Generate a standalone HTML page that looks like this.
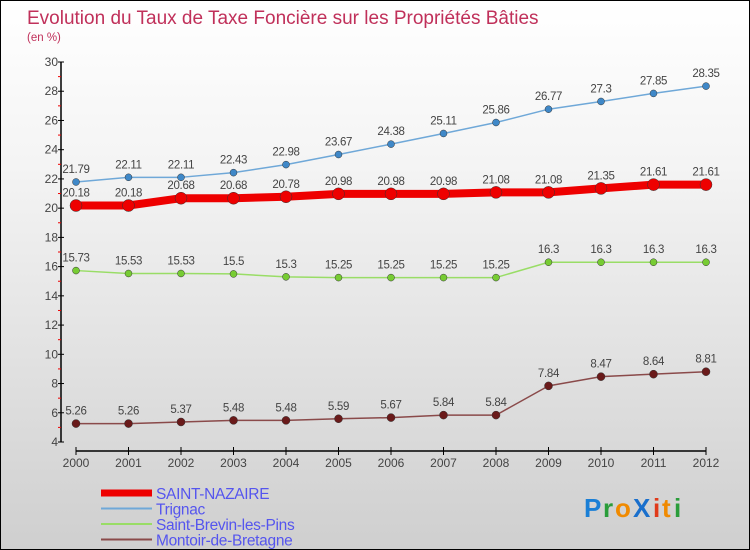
<!DOCTYPE html>
<html><head><meta charset="utf-8"><style>
body{margin:0}
#c{width:748px;height:548px;border:1px solid #000;background:linear-gradient(#fff,#f4f4f4 30%,#cfcfcf);position:relative;overflow:hidden;font-family:"Liberation Sans",sans-serif}
</style></head><body>
<div id="c">
<svg id="s" width="748" height="548">
<text x="26" y="23" font-size="19" fill="#c0305a" font-family="Liberation Sans,sans-serif">Evolution du Taux de Taxe Foncière sur les Propriétés Bâties</text>
<text x="26" y="40" font-size="11.5" fill="#c0305a">(en %)</text>
<g id="axes"></g><g id="series"></g><g id="legend"></g>
<g font-size="26" font-weight="bold" font-family="Liberation Sans,sans-serif">
<text x="583" y="516" fill="#1a7fd6">P</text><text x="602" y="516" fill="#2a9d3a">r</text><text x="614" y="516" fill="#f08a00">o</text><text x="632" y="516" fill="#1a6fcc">X</text><text x="652" y="516" fill="#e03a1a">i</text><text x="661" y="516" fill="#f08a00">t</text><text x="673" y="516" fill="#2a9d3a">i</text>
</g>
</svg></div>
<script>
const years=[2000,2001,2002,2003,2004,2005,2006,2007,2008,2009,2010,2011,2012];
const stNazaire=[20.18,20.18,20.68,20.68,20.78,20.98,20.98,20.98,21.08,21.08,21.35,21.61,21.61];
const trignac=[21.79,22.11,22.11,22.43,22.98,23.67,24.38,25.11,25.86,26.77,27.3,27.85,28.35];
const stBrevin=[15.73,15.53,15.53,15.5,15.3,15.25,15.25,15.25,15.25,16.3,16.3,16.3,16.3];
const montoir=[5.26,5.26,5.37,5.48,5.48,5.59,5.67,5.84,5.84,7.84,8.47,8.64,8.81];
const yTicks=[4,6,8,10,12,14,16,18,20,22,24,26,28,30];
const NS="http://www.w3.org/2000/svg";
const X=i=>75+i*52.5, Y=v=>441-(v-4)*380/26;
function mk(t,a,p){const e=document.createElementNS(NS,t);for(const k in a)e.setAttribute(k,a[k]);p.appendChild(e);return e;}
const ax=document.getElementById('axes');
let yl=mk('line',{x1:60,y1:Y(30),x2:60,y2:Y(4),stroke:'#000','stroke-width':1.5},ax);

yTicks.forEach(v=>{mk('line',{x1:57,x2:63,y1:Y(v),y2:Y(v),stroke:'#000'},ax);
 if(v<30)mk('line',{x1:57,x2:60,y1:Y(v+1),y2:Y(v+1),stroke:'#e00'},ax);
 const t=mk('text',{x:57,y:Y(v)+4,'text-anchor':'end','font-size':12,fill:'#444'},ax);t.textContent=v;
 });
let xl=mk('line',{x1:75,y1:450,x2:705,y2:450,stroke:'#000','stroke-width':1.5},ax);

years.forEach((y,i)=>{mk('line',{x1:X(i),x2:X(i),y1:446,y2:454,stroke:'#000'},ax);
 const t=mk('text',{x:X(i),y:466,'text-anchor':'middle','font-size':12,fill:'#444'},ax);t.textContent=y;
 });
const sg=document.getElementById('series');
function draw(d,color,w,r,dot,name){
 const g=mk('g',{},sg);
 mk('polyline',{points:d.map((v,i)=>X(i)+','+Y(v)).join(' '),fill:'none',stroke:color,'stroke-width':w,'stroke-linejoin':'round'},g);
 d.forEach((v,i)=>{const c=mk('circle',{cx:X(i),cy:Y(v),r:r,fill:dot,stroke:'#333','stroke-width':0.5},g);
  
  const t=mk('text',{x:X(i),y:Y(v)-9,'text-anchor':'middle','font-size':11.5,fill:'#444','letter-spacing':'-0.3'},g);t.textContent=v;
  });
}
draw(trignac,'#6fa8d8',1.5,3.5,'#3f88c8','trignac');
draw(stBrevin,'#99dd66',1.5,3.5,'#77cc33','saint-brevin');
draw(montoir,'#8a4a4a',1.5,4,'#6a1a1a','montoir');
draw(stNazaire,'#ee0000',8,6,'#ee0000','saint-nazaire');
const lg=document.getElementById('legend');
[['SAINT-NAZAIRE','#ee0000',7],['Trignac','#6fa8d8',2],['Saint-Brevin-les-Pins','#99dd66',2],['Montoir-de-Bretagne','#8a4a4a',2]].forEach((e,i)=>{
 const g=mk('g',{},lg);
 const y=492+i*15.5;
 mk('line',{x1:100,x2:151,y1:y,y2:y,stroke:e[1],'stroke-width':e[2]},g);
 const t=mk('text',{x:155,y:y+6,'font-size':15.5,fill:'#5555ee','letter-spacing':'-0.3'},g);t.textContent=e[0];});
</script></body></html>
